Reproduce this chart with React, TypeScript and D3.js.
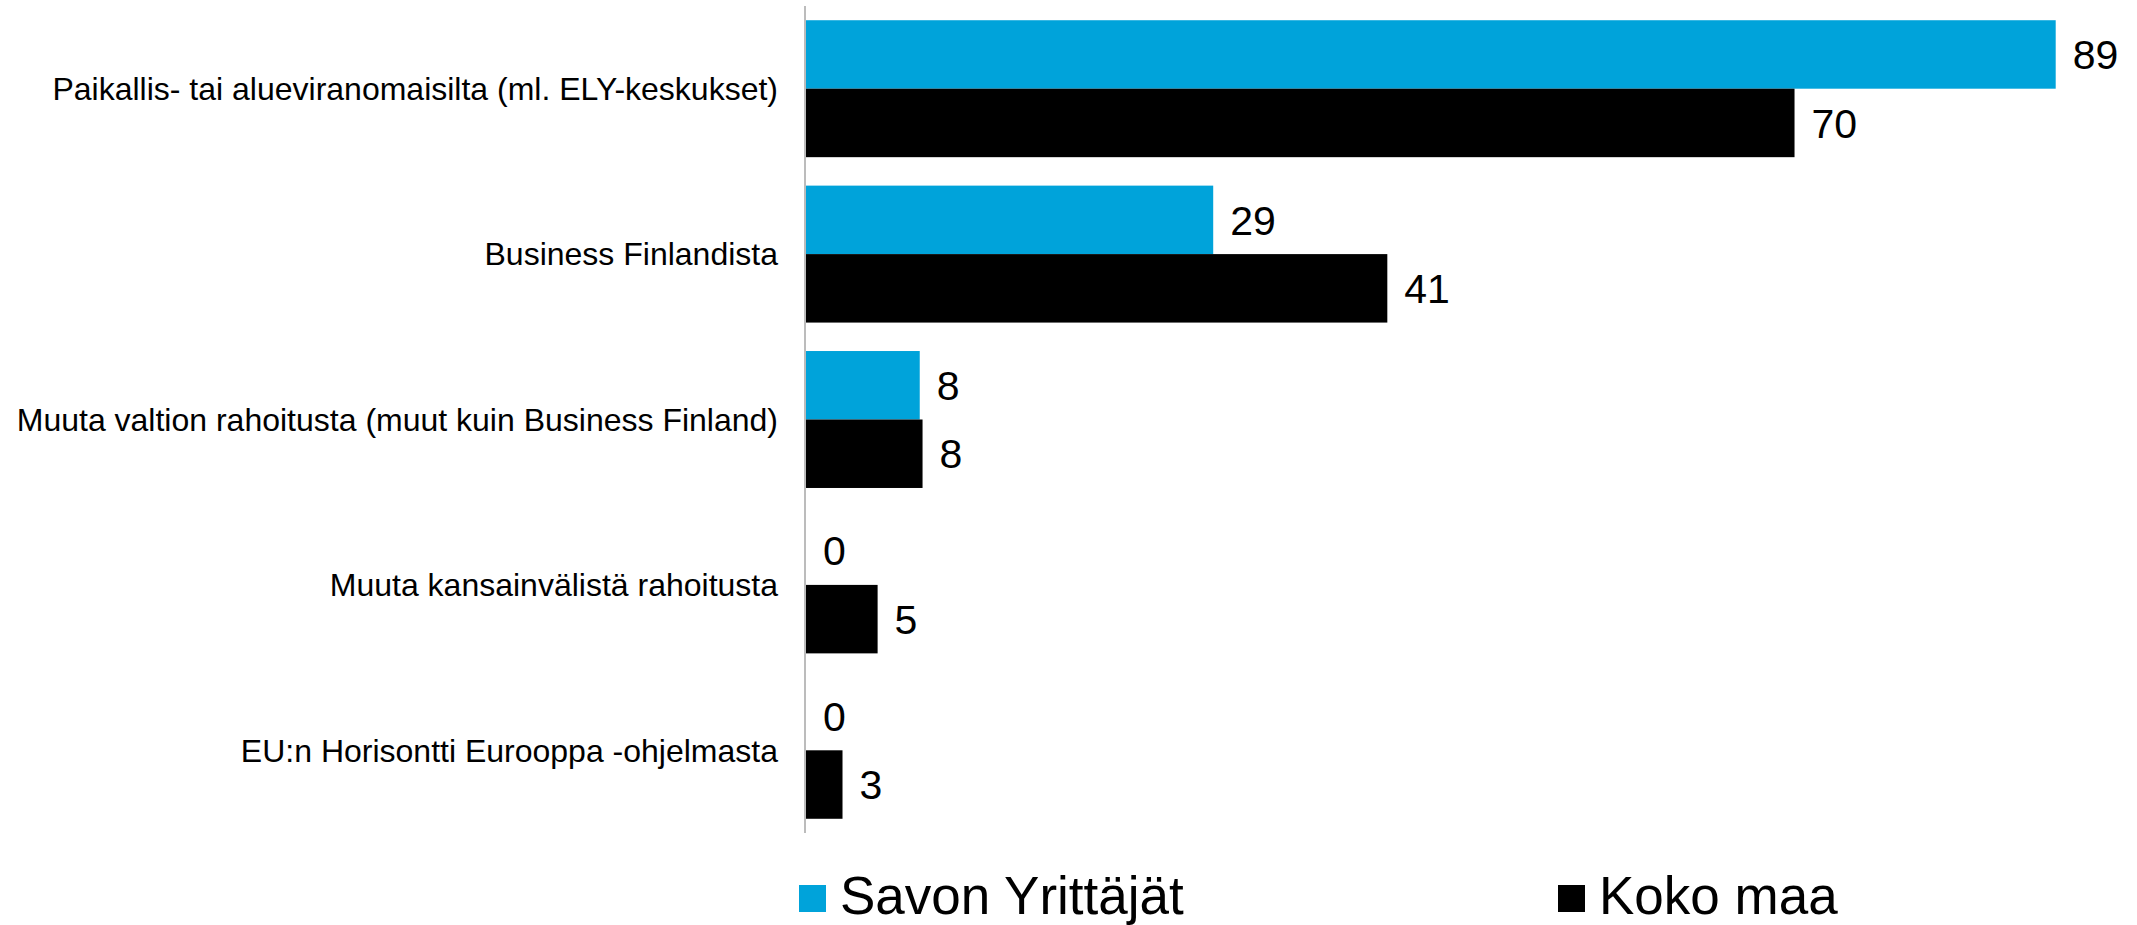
import * as d3 from "d3";

const categories = [
  "Paikallis- tai alueviranomaisilta (ml. ELY-keskukset)",
  "Business Finlandista",
  "Muuta valtion rahoitusta (muut kuin Business Finland)",
  "Muuta kansainvälistä rahoitusta",
  "EU:n Horisontti Eurooppa -ohjelmasta",
];
const seriesNames = ["Savon Yrittäjät", "Koko maa"];
const savonValues = [89, 29, 8.1, 0, 0];
const kokoMaaValues = [70.4, 41.4, 8.3, 5.1, 2.6];
const colors = ["#00a3da", "#000000"];

const App = () => {
  const width = 2137,
    height = 925;
  const margin = { top: 6, right: 82, bottom: 92, left: 805 };

  const x = d3
    .scaleLinear()
    .domain([0, 89])
    .range([margin.left + 1, 2055.7]);

  const y = d3
    .scaleBand()
    .domain(categories)
    .range([margin.top, height - margin.bottom])
    .paddingInner(0.172)
    .paddingOuter(0.086);

  const inner = d3
    .scaleBand()
    .domain(seriesNames)
    .range([0, y.bandwidth()]);

  const series = [savonValues, kokoMaaValues];
  const fmt = d3.format(".0f");
  const font = "'Liberation Sans', Arial, sans-serif";

  return (
    <div style={{ position: "absolute", left: 0, top: 0 }}>
      <svg width={width} height={height} style={{ display: "block", background: "#fff" }}>
        {/* bars and value labels */}
        {categories.map((c, i) => (
          <g key={c}>
            {series.map((vals, s) => {
              const y0 = y(c) + inner(seriesNames[s]);
              return (
                <g key={s}>
                  <rect
                    x={x(0)}
                    y={y0}
                    width={x(vals[i]) - x(0)}
                    height={inner.bandwidth()}
                    fill={colors[s]}
                  />
                  <text
                    x={x(vals[i]) + 17}
                    y={y0 + inner.bandwidth() / 2}
                    dy="0.36em"
                    fontSize={41}
                    fontFamily={font}
                    fill="#000"
                  >
                    {fmt(vals[i])}
                  </text>
                </g>
              );
            })}
            <text
              x={778}
              y={y(c) + y.bandwidth() / 2}
              dy="0.35em"
              textAnchor="end"
              fontSize={32}
              fontFamily={font}
              fill="#000"
            >
              {c}
            </text>
          </g>
        ))}

        {/* vertical axis line */}
        <line
          x1={margin.left}
          x2={margin.left}
          y1={margin.top}
          y2={height - margin.bottom}
          stroke="#a6a6a6"
          strokeWidth={1.5}
        />

        {/* legend */}
        {seriesNames.map((name, s) => {
          const lx = [799, 1558][s];
          return (
            <g key={name}>
              <rect x={lx} y={885} width={27} height={27} fill={colors[s]} />
              <text x={lx + 41} y={914} fontSize={53} fontFamily={font} fill="#000">
                {name}
              </text>
            </g>
          );
        })}
      </svg>
    </div>
  );
};

export default App;
